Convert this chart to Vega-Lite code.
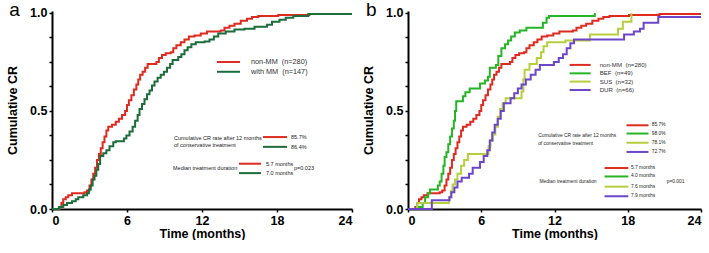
{
  "$schema": "https://vega.github.io/schema/vega-lite/v6.json",
  "bounds": "flush",
  "spacing": 56,
  "padding": {"left": 6, "top": 0, "right": 0, "bottom": 0},
  "background": "white",
  "config": {
    "view": {"stroke": null},
    "font": "Liberation Sans",
    "axis": {
      "grid": false,
      "domainColor": "#000",
      "domainWidth": 2,
      "tickColor": "#000",
      "tickWidth": 1.5,
      "tickSize": 3,
      "labelFont": "Liberation Sans",
      "labelFontWeight": "bold",
      "labelFontSize": 12.5,
      "labelColor": "#000",
      "labelPadding": 2,
      "titleFont": "Liberation Sans",
      "titleFontWeight": "bold",
      "titleFontSize": 12.5,
      "titleColor": "#000"
    }
  },
  "resolve": {"scale": {"color": "independent"}},
  "datasets": {
    "curves": [
      {"s": "non-MM", "t": 0, "cr": 0},
      {"s": "non-MM", "t": 0.6, "cr": 0.01},
      {"s": "non-MM", "t": 0.75, "cr": 0.03},
      {"s": "non-MM", "t": 0.9, "cr": 0.05},
      {"s": "non-MM", "t": 1.1, "cr": 0.06},
      {"s": "non-MM", "t": 1.3, "cr": 0.07},
      {"s": "non-MM", "t": 1.6, "cr": 0.08},
      {"s": "non-MM", "t": 2.6, "cr": 0.085},
      {"s": "non-MM", "t": 2.8, "cr": 0.095},
      {"s": "non-MM", "t": 3.0, "cr": 0.12},
      {"s": "non-MM", "t": 3.15, "cr": 0.15},
      {"s": "non-MM", "t": 3.3, "cr": 0.18},
      {"s": "non-MM", "t": 3.45, "cr": 0.21},
      {"s": "non-MM", "t": 3.6, "cr": 0.25},
      {"s": "non-MM", "t": 3.75, "cr": 0.28},
      {"s": "non-MM", "t": 3.9, "cr": 0.31},
      {"s": "non-MM", "t": 4.05, "cr": 0.34},
      {"s": "non-MM", "t": 4.2, "cr": 0.37},
      {"s": "non-MM", "t": 4.35, "cr": 0.4},
      {"s": "non-MM", "t": 4.5, "cr": 0.42},
      {"s": "non-MM", "t": 4.8, "cr": 0.43},
      {"s": "non-MM", "t": 5.1, "cr": 0.445},
      {"s": "non-MM", "t": 5.35, "cr": 0.46},
      {"s": "non-MM", "t": 5.6, "cr": 0.48},
      {"s": "non-MM", "t": 5.85, "cr": 0.5},
      {"s": "non-MM", "t": 6.0, "cr": 0.53},
      {"s": "non-MM", "t": 6.15, "cr": 0.555},
      {"s": "non-MM", "t": 6.35, "cr": 0.58},
      {"s": "non-MM", "t": 6.55, "cr": 0.61},
      {"s": "non-MM", "t": 6.75, "cr": 0.635},
      {"s": "non-MM", "t": 6.9, "cr": 0.66},
      {"s": "non-MM", "t": 7.05, "cr": 0.685},
      {"s": "non-MM", "t": 7.25, "cr": 0.7},
      {"s": "non-MM", "t": 7.45, "cr": 0.72},
      {"s": "non-MM", "t": 7.65, "cr": 0.74},
      {"s": "non-MM", "t": 8.35, "cr": 0.75},
      {"s": "non-MM", "t": 8.55, "cr": 0.77},
      {"s": "non-MM", "t": 8.8, "cr": 0.785},
      {"s": "non-MM", "t": 9.1, "cr": 0.795},
      {"s": "non-MM", "t": 9.5, "cr": 0.8},
      {"s": "non-MM", "t": 9.7, "cr": 0.82},
      {"s": "non-MM", "t": 9.95, "cr": 0.835},
      {"s": "non-MM", "t": 10.3, "cr": 0.85},
      {"s": "non-MM", "t": 10.6, "cr": 0.865},
      {"s": "non-MM", "t": 10.95, "cr": 0.88},
      {"s": "non-MM", "t": 11.4, "cr": 0.885},
      {"s": "non-MM", "t": 11.9, "cr": 0.895},
      {"s": "non-MM", "t": 12.4, "cr": 0.905},
      {"s": "non-MM", "t": 13.5, "cr": 0.91},
      {"s": "non-MM", "t": 13.8, "cr": 0.925},
      {"s": "non-MM", "t": 14.2, "cr": 0.935},
      {"s": "non-MM", "t": 14.6, "cr": 0.945},
      {"s": "non-MM", "t": 15.1, "cr": 0.96},
      {"s": "non-MM", "t": 15.6, "cr": 0.97},
      {"s": "non-MM", "t": 16.0, "cr": 0.98},
      {"s": "non-MM", "t": 16.5, "cr": 0.985},
      {"s": "non-MM", "t": 18.1, "cr": 0.99},
      {"s": "non-MM", "t": 20.6, "cr": 0.995},
      {"s": "non-MM", "t": 24, "cr": 0.995},
      {"s": "with MM", "t": 0, "cr": 0},
      {"s": "with MM", "t": 0.55, "cr": 0.01},
      {"s": "with MM", "t": 0.9, "cr": 0.02},
      {"s": "with MM", "t": 1.2, "cr": 0.03},
      {"s": "with MM", "t": 1.6, "cr": 0.04},
      {"s": "with MM", "t": 1.9, "cr": 0.05},
      {"s": "with MM", "t": 2.1, "cr": 0.06},
      {"s": "with MM", "t": 2.5, "cr": 0.07},
      {"s": "with MM", "t": 2.8, "cr": 0.08},
      {"s": "with MM", "t": 2.95, "cr": 0.1},
      {"s": "with MM", "t": 3.1, "cr": 0.12},
      {"s": "with MM", "t": 3.25, "cr": 0.15},
      {"s": "with MM", "t": 3.4, "cr": 0.17},
      {"s": "with MM", "t": 3.55, "cr": 0.2},
      {"s": "with MM", "t": 3.7, "cr": 0.23},
      {"s": "with MM", "t": 3.85, "cr": 0.27},
      {"s": "with MM", "t": 4.1, "cr": 0.285},
      {"s": "with MM", "t": 4.35, "cr": 0.3},
      {"s": "with MM", "t": 4.6, "cr": 0.32},
      {"s": "with MM", "t": 4.9, "cr": 0.34},
      {"s": "with MM", "t": 5.1, "cr": 0.345},
      {"s": "with MM", "t": 5.75, "cr": 0.36},
      {"s": "with MM", "t": 5.95, "cr": 0.375},
      {"s": "with MM", "t": 6.2, "cr": 0.395},
      {"s": "with MM", "t": 6.45, "cr": 0.42},
      {"s": "with MM", "t": 6.65, "cr": 0.45},
      {"s": "with MM", "t": 6.85, "cr": 0.48},
      {"s": "with MM", "t": 7.0, "cr": 0.51},
      {"s": "with MM", "t": 7.2, "cr": 0.535},
      {"s": "with MM", "t": 7.4, "cr": 0.56},
      {"s": "with MM", "t": 7.6, "cr": 0.585},
      {"s": "with MM", "t": 7.8, "cr": 0.605},
      {"s": "with MM", "t": 8.0, "cr": 0.63},
      {"s": "with MM", "t": 8.2, "cr": 0.65},
      {"s": "with MM", "t": 8.45, "cr": 0.67},
      {"s": "with MM", "t": 8.7, "cr": 0.685},
      {"s": "with MM", "t": 8.95, "cr": 0.7},
      {"s": "with MM", "t": 9.2, "cr": 0.72},
      {"s": "with MM", "t": 9.45, "cr": 0.74},
      {"s": "with MM", "t": 9.65, "cr": 0.76},
      {"s": "with MM", "t": 10.1, "cr": 0.775},
      {"s": "with MM", "t": 10.35, "cr": 0.79},
      {"s": "with MM", "t": 10.6, "cr": 0.81},
      {"s": "with MM", "t": 10.85, "cr": 0.825},
      {"s": "with MM", "t": 11.15, "cr": 0.84},
      {"s": "with MM", "t": 11.5, "cr": 0.85},
      {"s": "with MM", "t": 12.2, "cr": 0.855},
      {"s": "with MM", "t": 12.6, "cr": 0.865},
      {"s": "with MM", "t": 12.95, "cr": 0.88},
      {"s": "with MM", "t": 13.3, "cr": 0.895},
      {"s": "with MM", "t": 13.9, "cr": 0.905},
      {"s": "with MM", "t": 14.6, "cr": 0.915},
      {"s": "with MM", "t": 15.4, "cr": 0.92},
      {"s": "with MM", "t": 16.2, "cr": 0.93},
      {"s": "with MM", "t": 17.2, "cr": 0.94},
      {"s": "with MM", "t": 17.6, "cr": 0.955},
      {"s": "with MM", "t": 18.2, "cr": 0.965},
      {"s": "with MM", "t": 18.7, "cr": 0.975},
      {"s": "with MM", "t": 19.3, "cr": 0.985},
      {"s": "with MM", "t": 20.5, "cr": 0.995},
      {"s": "with MM", "t": 24, "cr": 0.995},
      {"s": "BEF", "t": 0, "cr": 0},
      {"s": "BEF", "t": 0.7, "cr": 0.01},
      {"s": "BEF", "t": 1.2, "cr": 0.03},
      {"s": "BEF", "t": 1.4, "cr": 0.06},
      {"s": "BEF", "t": 1.65, "cr": 0.08},
      {"s": "BEF", "t": 1.8, "cr": 0.1},
      {"s": "BEF", "t": 2.45, "cr": 0.12},
      {"s": "BEF", "t": 2.6, "cr": 0.14},
      {"s": "BEF", "t": 2.75, "cr": 0.18},
      {"s": "BEF", "t": 2.9, "cr": 0.22},
      {"s": "BEF", "t": 3.0, "cr": 0.265},
      {"s": "BEF", "t": 3.15, "cr": 0.29},
      {"s": "BEF", "t": 3.3, "cr": 0.33},
      {"s": "BEF", "t": 3.45, "cr": 0.37},
      {"s": "BEF", "t": 3.6, "cr": 0.41},
      {"s": "BEF", "t": 3.75, "cr": 0.45},
      {"s": "BEF", "t": 3.85, "cr": 0.5},
      {"s": "BEF", "t": 3.95, "cr": 0.55},
      {"s": "BEF", "t": 4.5, "cr": 0.575},
      {"s": "BEF", "t": 4.7, "cr": 0.595},
      {"s": "BEF", "t": 5.05, "cr": 0.615},
      {"s": "BEF", "t": 5.9, "cr": 0.64},
      {"s": "BEF", "t": 6.3, "cr": 0.655},
      {"s": "BEF", "t": 6.55, "cr": 0.675},
      {"s": "BEF", "t": 6.7, "cr": 0.72},
      {"s": "BEF", "t": 7.2, "cr": 0.735},
      {"s": "BEF", "t": 7.4, "cr": 0.78},
      {"s": "BEF", "t": 7.65, "cr": 0.82},
      {"s": "BEF", "t": 7.95, "cr": 0.84},
      {"s": "BEF", "t": 8.2, "cr": 0.86},
      {"s": "BEF", "t": 8.45, "cr": 0.88},
      {"s": "BEF", "t": 8.75, "cr": 0.9},
      {"s": "BEF", "t": 9.15, "cr": 0.91},
      {"s": "BEF", "t": 9.7, "cr": 0.925},
      {"s": "BEF", "t": 11.05, "cr": 0.95},
      {"s": "BEF", "t": 11.35, "cr": 0.975},
      {"s": "BEF", "t": 11.55, "cr": 0.985},
      {"s": "BEF", "t": 15.3, "cr": 1.0},
      {"s": "SUS", "t": 0, "cr": 0},
      {"s": "SUS", "t": 0.75, "cr": 0.03},
      {"s": "SUS", "t": 3.35, "cr": 0.06},
      {"s": "SUS", "t": 3.5, "cr": 0.09},
      {"s": "SUS", "t": 3.65, "cr": 0.125},
      {"s": "SUS", "t": 3.85, "cr": 0.15},
      {"s": "SUS", "t": 4.05, "cr": 0.18},
      {"s": "SUS", "t": 4.35, "cr": 0.22},
      {"s": "SUS", "t": 4.6, "cr": 0.25},
      {"s": "SUS", "t": 4.9, "cr": 0.28},
      {"s": "SUS", "t": 6.6, "cr": 0.32},
      {"s": "SUS", "t": 6.75, "cr": 0.35},
      {"s": "SUS", "t": 6.95, "cr": 0.38},
      {"s": "SUS", "t": 7.15, "cr": 0.42},
      {"s": "SUS", "t": 7.35, "cr": 0.47},
      {"s": "SUS", "t": 7.55, "cr": 0.51},
      {"s": "SUS", "t": 7.75, "cr": 0.54},
      {"s": "SUS", "t": 8.0, "cr": 0.565},
      {"s": "SUS", "t": 9.3, "cr": 0.6},
      {"s": "SUS", "t": 9.45, "cr": 0.66},
      {"s": "SUS", "t": 9.55, "cr": 0.71},
      {"s": "SUS", "t": 9.95, "cr": 0.74},
      {"s": "SUS", "t": 10.55, "cr": 0.77},
      {"s": "SUS", "t": 10.9, "cr": 0.8},
      {"s": "SUS", "t": 11.1, "cr": 0.83},
      {"s": "SUS", "t": 11.4, "cr": 0.85},
      {"s": "SUS", "t": 12.9, "cr": 0.86},
      {"s": "SUS", "t": 14.9, "cr": 0.89},
      {"s": "SUS", "t": 17.2, "cr": 0.92},
      {"s": "SUS", "t": 17.6, "cr": 0.955},
      {"s": "SUS", "t": 18.3, "cr": 1.0},
      {"s": "DUR", "t": 0, "cr": 0},
      {"s": "DUR", "t": 1.95, "cr": 0.045},
      {"s": "DUR", "t": 3.4, "cr": 0.06},
      {"s": "DUR", "t": 3.55, "cr": 0.085},
      {"s": "DUR", "t": 3.8, "cr": 0.11},
      {"s": "DUR", "t": 4.05, "cr": 0.14},
      {"s": "DUR", "t": 4.4, "cr": 0.16},
      {"s": "DUR", "t": 5.0, "cr": 0.18},
      {"s": "DUR", "t": 5.3, "cr": 0.21},
      {"s": "DUR", "t": 5.9, "cr": 0.24},
      {"s": "DUR", "t": 6.2, "cr": 0.27},
      {"s": "DUR", "t": 6.5, "cr": 0.3},
      {"s": "DUR", "t": 6.7, "cr": 0.35},
      {"s": "DUR", "t": 6.9, "cr": 0.39},
      {"s": "DUR", "t": 7.1, "cr": 0.43},
      {"s": "DUR", "t": 7.35, "cr": 0.46},
      {"s": "DUR", "t": 7.6, "cr": 0.5},
      {"s": "DUR", "t": 7.85, "cr": 0.54},
      {"s": "DUR", "t": 8.4, "cr": 0.565},
      {"s": "DUR", "t": 8.7, "cr": 0.59},
      {"s": "DUR", "t": 9.0, "cr": 0.615},
      {"s": "DUR", "t": 9.3, "cr": 0.635},
      {"s": "DUR", "t": 9.65, "cr": 0.66},
      {"s": "DUR", "t": 10.05, "cr": 0.685},
      {"s": "DUR", "t": 10.45, "cr": 0.71},
      {"s": "DUR", "t": 10.8, "cr": 0.735},
      {"s": "DUR", "t": 11.95, "cr": 0.75},
      {"s": "DUR", "t": 12.35, "cr": 0.77},
      {"s": "DUR", "t": 12.7, "cr": 0.79},
      {"s": "DUR", "t": 13.0, "cr": 0.82},
      {"s": "DUR", "t": 13.3, "cr": 0.845},
      {"s": "DUR", "t": 13.6, "cr": 0.865},
      {"s": "DUR", "t": 17.7, "cr": 0.89},
      {"s": "DUR", "t": 18.5, "cr": 0.905},
      {"s": "DUR", "t": 19.0, "cr": 0.92},
      {"s": "DUR", "t": 19.3, "cr": 0.95},
      {"s": "DUR", "t": 20.5, "cr": 0.98},
      {"s": "DUR", "t": 24, "cr": 0.98}
    ],
    "notes": [
      {"panel": "a", "kind": "tag", "label": "a", "t": -3.0, "cr": 0.985},
      {"panel": "a", "kind": "key", "s": "non-MM", "t": 13.2, "t2": 15.04, "cr": 0.75},
      {"panel": "a", "kind": "key", "s": "with MM", "t": 13.2, "t2": 15.04, "cr": 0.7},
      {"panel": "a", "kind": "key", "label": "non-MM\u00a0 (n=280)", "t": 15.92, "cr": 0.75},
      {"panel": "a", "kind": "key", "label": "with MM\u00a0 (n=147)", "t": 15.92, "cr": 0.7},
      {"panel": "a", "kind": "note", "label": "Cumulative CR rate after 12 months", "t": 9.76, "cr": 0.362},
      {"panel": "a", "kind": "note", "label": "of conservative treatment", "t": 9.76, "cr": 0.327},
      {"panel": "a", "kind": "note", "label": "Median treatment duration", "t": 9.68, "cr": 0.211},
      {"panel": "a", "kind": "note", "label": "p=0.023", "t": 19.36, "cr": 0.211},
      {"panel": "a", "kind": "note", "s": "non-MM", "t": 16.88, "t2": 18.8, "cr": 0.367},
      {"panel": "a", "kind": "note", "s": "with MM", "t": 16.88, "t2": 18.8, "cr": 0.317},
      {"panel": "a", "kind": "note", "s": "non-MM", "t": 14.96, "t2": 16.72, "cr": 0.231},
      {"panel": "a", "kind": "note", "s": "with MM", "t": 14.96, "t2": 16.72, "cr": 0.183},
      {"panel": "a", "kind": "note", "label": "85.7%", "t": 19.12, "cr": 0.367},
      {"panel": "a", "kind": "note", "label": "86.4%", "t": 19.12, "cr": 0.317},
      {"panel": "a", "kind": "note", "label": "5.7 months", "t": 17.12, "cr": 0.231},
      {"panel": "a", "kind": "note", "label": "7.0 months", "t": 17.12, "cr": 0.183},
      {"panel": "b", "kind": "tag", "label": "b", "t": -3.01, "cr": 0.985},
      {"panel": "b", "kind": "key", "s": "non-MM", "t": 13.24, "t2": 14.96, "cr": 0.735},
      {"panel": "b", "kind": "key", "s": "BEF", "t": 13.24, "t2": 14.96, "cr": 0.692},
      {"panel": "b", "kind": "key", "s": "SUS", "t": 13.24, "t2": 14.96, "cr": 0.65},
      {"panel": "b", "kind": "key", "s": "DUR", "t": 13.24, "t2": 14.96, "cr": 0.607},
      {"panel": "b", "kind": "key", "label": "non-MM\u00a0 (n=280)", "t": 15.7, "cr": 0.735},
      {"panel": "b", "kind": "key", "label": "BEF\u00a0 (n=49)", "t": 15.7, "cr": 0.692},
      {"panel": "b", "kind": "key", "label": "SUS\u00a0 (n=32)", "t": 15.7, "cr": 0.65},
      {"panel": "b", "kind": "key", "label": "DUR\u00a0 (n=66)", "t": 15.7, "cr": 0.607},
      {"panel": "b", "kind": "note", "label": "Cumulative CR rate after 12 months", "t": 10.66, "cr": 0.371},
      {"panel": "b", "kind": "note", "label": "of conservative treatment", "t": 10.66, "cr": 0.333},
      {"panel": "b", "kind": "note", "label": "Median treatment duration", "t": 10.77, "cr": 0.14},
      {"panel": "b", "kind": "note", "label": "p=0.001", "t": 21.19, "cr": 0.14},
      {"panel": "b", "kind": "note", "s": "non-MM", "t": 17.9, "t2": 19.7, "cr": 0.427},
      {"panel": "b", "kind": "note", "s": "BEF", "t": 17.9, "t2": 19.7, "cr": 0.385},
      {"panel": "b", "kind": "note", "s": "SUS", "t": 17.9, "t2": 19.7, "cr": 0.338},
      {"panel": "b", "kind": "note", "s": "DUR", "t": 17.9, "t2": 19.7, "cr": 0.291},
      {"panel": "b", "kind": "note", "label": "85.7%", "t": 19.96, "cr": 0.427},
      {"panel": "b", "kind": "note", "label": "98.0%", "t": 19.96, "cr": 0.385},
      {"panel": "b", "kind": "note", "label": "78.1%", "t": 19.96, "cr": 0.338},
      {"panel": "b", "kind": "note", "label": "72.7%", "t": 19.96, "cr": 0.291},
      {"panel": "b", "kind": "note", "s": "non-MM", "t": 16.1, "t2": 18.05, "cr": 0.209},
      {"panel": "b", "kind": "note", "s": "BEF", "t": 16.1, "t2": 18.05, "cr": 0.166},
      {"panel": "b", "kind": "note", "s": "SUS", "t": 16.1, "t2": 18.05, "cr": 0.114},
      {"panel": "b", "kind": "note", "s": "DUR", "t": 16.1, "t2": 18.05, "cr": 0.065},
      {"panel": "b", "kind": "note", "label": "5.7 months", "t": 18.26, "cr": 0.209},
      {"panel": "b", "kind": "note", "label": "4.0 months", "t": 18.26, "cr": 0.166},
      {"panel": "b", "kind": "note", "label": "7.6 months", "t": 18.26, "cr": 0.114},
      {"panel": "b", "kind": "note", "label": "7.9 months", "t": 18.26, "cr": 0.065}
    ]
  },
  "hconcat": [
    {
      "width": 300,
      "height": 198,
      "encoding": {
        "x": {"field": "t", "type": "quantitative", "scale": {"domain": [0, 24], "nice": false}, "axis": {"values": [0, 6, 12, 18, 24], "title": "Time (months)", "titlePadding": 1}},
        "y": {"field": "cr", "type": "quantitative", "scale": {"domain": [0, 1.01], "nice": false}, "axis": {"values": [0, 0.125, 0.25, 0.375, 0.5, 0.625, 0.75, 0.875, 1], "labelExpr": "datum.value == 0 || datum.value == 0.5 || datum.value == 1 ? format(datum.value, '.1f') : ''", "title": "Cumulative CR", "titlePadding": 10}},
        "color": {"field": "s", "type": "nominal", "scale": {"domain": ["non-MM", "with MM"], "range": ["#de2a1f", "#1c6d3a"]}, "legend": null}
      },
      "layer": [
        {
          "data": {"name": "curves"},
          "transform": [{"filter": "datum.s == 'non-MM' || datum.s == 'with MM'"}],
          "mark": {"type": "line", "interpolate": "step-after", "strokeWidth": 2}
        },
        {
          "data": {"name": "notes"},
          "transform": [{"filter": "datum.panel == 'a' && datum.t2 != null"}],
          "mark": {"type": "rule", "strokeWidth": 2},
          "encoding": {"x2": {"field": "t2"}}
        },
        {
          "data": {"name": "notes"},
          "transform": [{"filter": "datum.panel == 'a' && datum.kind == 'key' && datum.label != null"}],
          "mark": {"type": "text", "align": "left", "baseline": "middle", "fontSize": 7.3, "color": "#333"},
          "encoding": {"text": {"field": "label"}, "color": {"value": "#333"}}
        },
        {
          "data": {"name": "notes"},
          "transform": [{"filter": "datum.panel == 'a' && datum.kind == 'note' && datum.label != null"}],
          "mark": {"type": "text", "align": "left", "baseline": "middle", "fontSize": 5.5, "color": "#222"},
          "encoding": {"text": {"field": "label"}, "color": {"value": "#222"}}
        },
        {
          "data": {"name": "notes"},
          "transform": [{"filter": "datum.panel == 'a' && datum.kind == 'tag'"}],
          "mark": {"type": "text", "align": "center", "baseline": "alphabetic", "fontSize": 19, "color": "#000"},
          "encoding": {"text": {"field": "label"}, "color": {"value": "#000"}}
        }
      ]
    },
    {
      "width": 293,
      "height": 198,
      "encoding": {
        "x": {"field": "t", "type": "quantitative", "scale": {"domain": [0, 24], "nice": false}, "axis": {"values": [0, 6, 12, 18, 24], "title": "Time (months)", "titlePadding": 1}},
        "y": {"field": "cr", "type": "quantitative", "scale": {"domain": [0, 1.01], "nice": false}, "axis": {"values": [0, 0.125, 0.25, 0.375, 0.5, 0.625, 0.75, 0.875, 1], "labelExpr": "datum.value == 0 || datum.value == 0.5 || datum.value == 1 ? format(datum.value, '.1f') : ''", "title": "Cumulative CR", "titlePadding": 10}},
        "color": {"field": "s", "type": "nominal", "scale": {"domain": ["non-MM", "BEF", "SUS", "DUR"], "range": ["#de2a1f", "#25b525", "#b6cf3c", "#6c45c8"]}, "legend": null}
      },
      "layer": [
        {
          "data": {"name": "curves"},
          "transform": [{"filter": "datum.s != 'with MM'"}],
          "mark": {"type": "line", "interpolate": "step-after", "strokeWidth": 2}
        },
        {
          "data": {"name": "notes"},
          "transform": [{"filter": "datum.panel == 'b' && datum.t2 != null"}],
          "mark": {"type": "rule", "strokeWidth": 2},
          "encoding": {"x2": {"field": "t2"}}
        },
        {
          "data": {"name": "notes"},
          "transform": [{"filter": "datum.panel == 'b' && datum.kind == 'key' && datum.label != null"}],
          "mark": {"type": "text", "align": "left", "baseline": "middle", "fontSize": 6.1, "color": "#333"},
          "encoding": {"text": {"field": "label"}, "color": {"value": "#333"}}
        },
        {
          "data": {"name": "notes"},
          "transform": [{"filter": "datum.panel == 'b' && datum.kind == 'note' && datum.label != null"}],
          "mark": {"type": "text", "align": "left", "baseline": "middle", "fontSize": 4.9, "color": "#222"},
          "encoding": {"text": {"field": "label"}, "color": {"value": "#222"}}
        },
        {
          "data": {"name": "notes"},
          "transform": [{"filter": "datum.panel == 'b' && datum.kind == 'tag'"}],
          "mark": {"type": "text", "align": "center", "baseline": "alphabetic", "fontSize": 19, "color": "#000"},
          "encoding": {"text": {"field": "label"}, "color": {"value": "#000"}}
        }
      ]
    }
  ]
}
